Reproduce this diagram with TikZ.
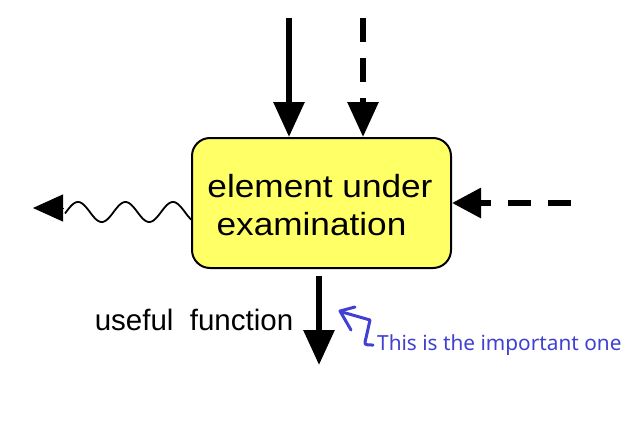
\documentclass[tikz,border=0pt]{standalone}
\usepackage{fontspec}
\setmainfont{Liberation Sans}
\newfontfamily\notefont{Noto Sans}
\usetikzlibrary{arrows.meta}
\definecolor{boxyellow}{RGB}{255,255,102}
\definecolor{noteblue}{RGB}{64,64,210}
\begin{document}
\begin{tikzpicture}[x=1pt,y=-1pt,
  flowbox/.style={draw=black, line width=2pt, fill=boxyellow, rounded corners=18pt, inner sep=0pt},
  bigtxt/.style={font=\fontsize{32}{38}\selectfont, inner sep=0pt, anchor=base},
  lbltxt/.style={font=\fontsize{29.5}{34}\selectfont, inner sep=0pt, anchor=base},
  notetxt/.style={font=\notefont\fontsize{20.8}{24}\selectfont, text=noteblue, inner sep=0pt, anchor=base west},
  heavyarrow/.style={line width=6pt, -{Triangle[length=35pt,width=30pt]}},
  dasharrow/.style={line width=6pt, dash pattern=on 24pt off 16pt, -{Triangle[length=35pt,width=30pt]}},
  sidedash/.style={line width=6pt, dash pattern=on 23pt off 17pt, -{Triangle[length=29pt,width=29pt]}},
  notearrow/.style={draw=noteblue, line width=3pt, line cap=round, line join=round}
]
\useasboundingbox (0,0) rectangle (644,423);
\fill[white] (0,0) rectangle (644,423);

% box
\node[flowbox, minimum width=259pt, minimum height=130pt] (box) at (321.5,203) {};
\node[bigtxt] (line1) at (320,197) {\scalebox{1.1}[1]{element under}};
\node[bigtxt] (line2) at (311.5,235) {\scalebox{1.1}[1]{examination}};

% top arrows
\coordinate (s1) at (289,18);
\coordinate (s2) at (363,18);
\draw[heavyarrow] (s1) -- (s1 |- box.north);
\draw[dasharrow] (s2) -- (s2 |- box.north);

% right dashed arrow
\coordinate (s3) at (571,203);
\draw[sidedash] (s3) -- (s3 -| box.east);

% left wavy arrow
\coordinate (wbase) at (64,208);
\coordinate (wtip) at (33,208);
\draw[line width=1.8pt] plot[domain=192:65, samples=120, smooth] (\x, {212 - 10*sin(7.58*(\x-66.1))});
\draw[line width=1pt, -{Triangle[length=30pt,width=27pt]}] (wbase) -- (wtip);

% bottom arrow
\coordinate (b1) at (319,276);
\coordinate (b2) at (319,365);
\draw[heavyarrow] (b1) -- (b2);
\node[lbltxt] (useful) at (194,330) {useful\ \ function};

% note
\node[notetxt] (note) at (377,350) {This is the important one};
\draw[notearrow] (355,307) -- (340,311) -- (351,330);
\draw[notearrow] (342,312) -- (370,320) -- (366,338) .. controls (364,345) .. (373,345);
\end{tikzpicture}
\end{document}
